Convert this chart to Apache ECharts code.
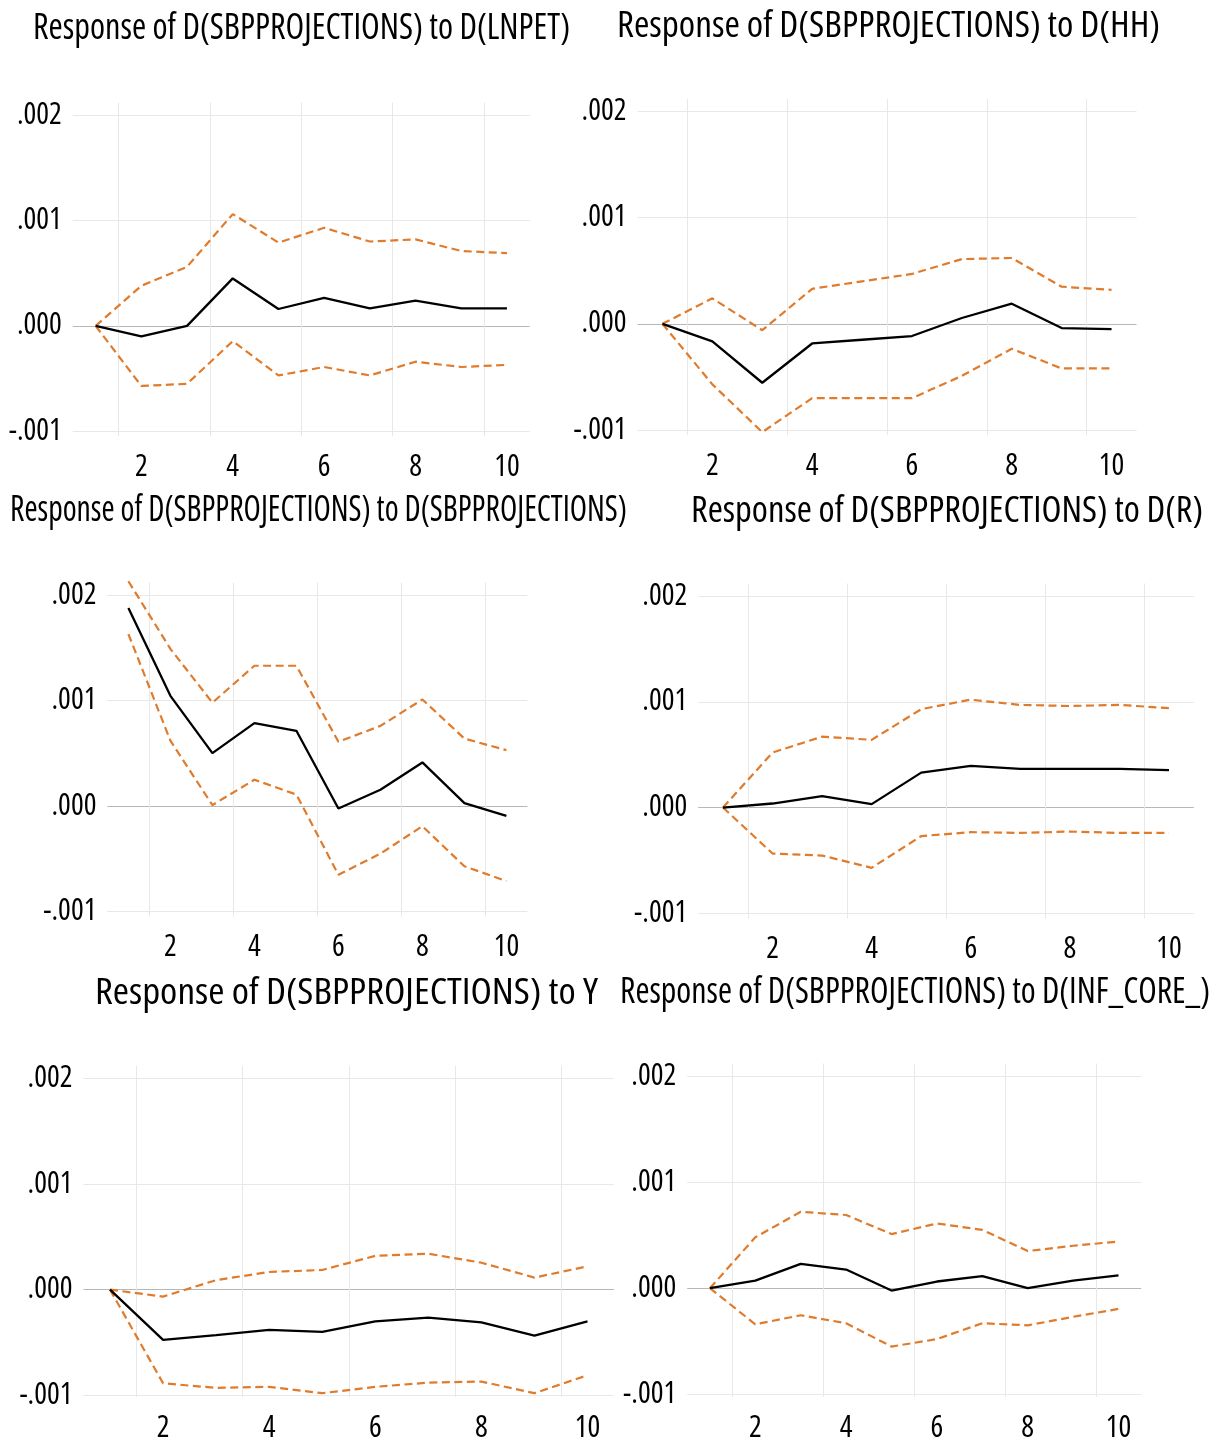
<!DOCTYPE html>
<html>
<head>
<meta charset="utf-8">
<title>Impulse responses of D(SBPPROJECTIONS)</title>
<script src="https://cdn.jsdelivr.net/npm/echarts@6/dist/echarts.min.js"></script>
<style>
  html, body { margin: 0; padding: 0; background: #ffffff; }
  #chart { width: 1220px; height: 1443px; }
</style>
</head>
<body>
<div id="chart"></div>
<script>
// Horizon (periods after the shock) and axis tick labels
const periods = ['1', '2', '3', '4', '5', '6', '7', '8', '9', '10'];
const xTickLabels = ['2', '4', '6', '8', '10'];
const yTickLabels = ['-.001', '.000', '.001', '.002'];

// Panel titles
const titleLnpet = 'Response of D(SBPPROJECTIONS) to D(LNPET)';
const titleHh = 'Response of D(SBPPROJECTIONS) to D(HH)';
const titleSbp = 'Response of D(SBPPROJECTIONS) to D(SBPPROJECTIONS)';
const titleR = 'Response of D(SBPPROJECTIONS) to D(R)';
const titleY = 'Response of D(SBPPROJECTIONS) to Y';
const titleInf = 'Response of D(SBPPROJECTIONS) to D(INF_CORE_)';

// Impulse responses with their +/- 2 S.E. bands
const lnpetResp  = [0, -0.00010, 0.00000, 0.00045, 0.00016, 0.000265, 0.000165, 0.00024, 0.000165, 0.000165];
const lnpetUpper = [0, 0.00038, 0.00056, 0.00106, 0.00079, 0.00093, 0.00080, 0.00082, 0.00071, 0.00069];
const lnpetLower = [0, -0.00057, -0.00055, -0.000145, -0.00047, -0.00039, -0.00047, -0.00034, -0.00039, -0.00037];

const hhResp  = [0, -0.000165, -0.000555, -0.000185, -0.00015, -0.000115, 0.000055, 0.00019, -0.00004, -0.00005];
const hhUpper = [0, 0.00024, -0.00006, 0.00033, 0.00040, 0.00047, 0.00061, 0.00062, 0.00035, 0.00032];
const hhLower = [0, -0.00057, -0.00102, -0.00070, -0.00070, -0.00070, -0.00049, -0.000235, -0.00042, -0.00042];

const sbpResp  = [0.001876, 0.001045, 0.000502, 0.000786, 0.000714, -0.000022, 0.000155, 0.000414, 0.000028, -0.000092];
const sbpUpper = [0.00213, 0.00149, 0.00098, 0.00133, 0.00133, 0.00061, 0.00076, 0.00101, 0.00064, 0.00053];
const sbpLower = [0.00163, 0.00062, 0.00001, 0.00025, 0.00011, -0.00065, -0.00045, -0.00019, -0.00057, -0.00071];

const rResp  = [0, 0.000038, 0.000107, 0.000032, 0.00033, 0.000394, 0.000366, 0.000366, 0.000366, 0.000353];
const rUpper = [0, 0.00052, 0.00067, 0.00064, 0.00093, 0.00102, 0.00097, 0.00096, 0.00097, 0.00094];
const rLower = [0, -0.000435, -0.000454, -0.00057, -0.00027, -0.000233, -0.00024, -0.000227, -0.00024, -0.00024];

const yResp  = [0, -0.000476, -0.00043, -0.00038, -0.00040, -0.00030, -0.000265, -0.00031, -0.000435, -0.00030];
const yUpper = [0, -0.000066, 0.00009, 0.000167, 0.000186, 0.00032, 0.00034, 0.000255, 0.000114, 0.00022];
const yLower = [0, -0.000886, -0.00093, -0.00092, -0.00098, -0.00092, -0.00088, -0.00087, -0.00098, -0.00081];

const infResp  = [0, 0.000072, 0.00023, 0.000176, -0.000022, 0.000063, 0.000113, 0.0, 0.000072, 0.00012];
const infUpper = [0, 0.00048, 0.00072, 0.00069, 0.00051, 0.00061, 0.00055, 0.00035, 0.00040, 0.00044];
const infLower = [0, -0.00034, -0.000255, -0.00033, -0.00055, -0.00048, -0.00033, -0.00035, -0.00027, -0.000195];

// ---- styling ----
// Condensed cut of Open Sans (selected through the font-stretch keyword)
const FAMILY = "'Open Sans', 'DejaVu Sans Condensed', sans-serif";
const STRETCH = 'condensed';
const BAND_COLOR = '#e07b2c';
const GRID_COLOR = '#e8e8e8';
const ZERO_COLOR = '#b7b7b7';
const TICK_FONT = { fontStyle: STRETCH, fontFamily: FAMILY, fontSize: 30, color: '#000' };

// Plot boxes (the .002 to -.001 span), title anchor and title width for the 3x2 layout
const panels = [
  { title: titleLnpet, resp: lnpetResp, upper: lnpetUpper, lower: lnpetLower,
    box: { left: 72.8, top: 115, width: 457, height: 316.3 }, titleAt: [301.5, 29], titleWidth: 537 },
  { title: titleHh, resp: hhResp, upper: hhUpper, lower: hhLower,
    box: { left: 637.5, top: 111.5, width: 499, height: 318.5 }, titleAt: [888.5, 27], titleWidth: 543 },
  { title: titleSbp, resp: sbpResp, upper: sbpUpper, lower: sbpLower,
    box: { left: 107.4, top: 595, width: 420, height: 316.7 }, titleAt: [318.5, 511], titleWidth: 617 },
  { title: titleR, resp: rResp, upper: rUpper, lower: rLower,
    box: { left: 698.2, top: 596, width: 495.6, height: 317.3 }, titleAt: [947, 512], titleWidth: 512 },
  { title: titleY, resp: yResp, upper: yUpper, lower: yLower,
    box: { left: 83.5, top: 1078.3, width: 530.5, height: 317 }, titleAt: [346.5, 994], titleWidth: 503 },
  { title: titleInf, resp: infResp, upper: infUpper, lower: infLower,
    box: { left: 687.2, top: 1076, width: 454, height: 318.3 }, titleAt: [915, 993], titleWidth: 590 }
];

// Show a label / vertical grid line only for the even periods
const showTick = (index) => xTickLabels.indexOf(periods[index]) !== -1;
const yLabel = (v) => yTickLabels[Math.round((v + 0.001) / 0.001)];

// Titles are squeezed horizontally to their set widths
const TITLE_FONT = STRETCH + ' 36px ' + FAMILY;
const measureCtx = document.createElement('canvas').getContext('2d');
measureCtx.font = TITLE_FONT;
const fitScale = (text, width) => width / measureCtx.measureText(text).width;

const grid = [], xAxis = [], yAxis = [], series = [], graphic = [];

panels.forEach((p, k) => {
  const b = p.box;
  const back = 2 * k, main = 2 * k + 1;

  // Backdrop grid: slightly taller, carries the vertical grid lines and period labels
  grid.push({ left: b.left, top: b.top - 12.5, width: b.width, height: b.height + 17.5 });
  // Main grid: the value scale from -.001 to .002
  grid.push({ left: b.left, top: b.top, width: b.width, height: b.height });

  xAxis.push({
    type: 'category', gridIndex: back, data: periods, boundaryGap: true,
    axisLine: { show: false },
    axisTick: { show: false, interval: showTick },
    axisLabel: Object.assign({ interval: showTick, margin: 16 }, TICK_FONT),
    splitLine: { show: true, interval: showTick, showMaxLine: false, lineStyle: { color: GRID_COLOR, width: 1 } }
  });
  yAxis.push({ type: 'value', gridIndex: back, min: 0, max: 1, show: false });

  xAxis.push({ type: 'category', gridIndex: main, data: periods, boundaryGap: true, show: false });
  yAxis.push({
    type: 'value', gridIndex: main, min: -0.001, max: 0.002, interval: 0.001,
    axisLine: { show: false }, axisTick: { show: false },
    axisLabel: Object.assign({ margin: 11, formatter: yLabel }, TICK_FONT),
    splitLine: { show: true, lineStyle: { color: [GRID_COLOR, ZERO_COLOR, GRID_COLOR, GRID_COLOR], width: 1.2 } }
  });

  const band = (data) => ({
    type: 'line', xAxisIndex: main, yAxisIndex: main, data: data,
    symbol: 'none', clip: false, silent: true, z: 3,
    lineStyle: { color: BAND_COLOR, width: 2.2, type: [8, 4.5] }
  });
  series.push(band(p.upper));
  series.push(band(p.lower));
  series.push({
    type: 'line', xAxisIndex: main, yAxisIndex: main, data: p.resp,
    symbol: 'none', clip: false, silent: true, z: 4,
    lineStyle: { color: '#000000', width: 2.3 }
  });

  graphic.push({
    type: 'text', x: p.titleAt[0], y: p.titleAt[1],
    scaleX: fitScale(p.title, p.titleWidth), scaleY: 1,
    style: {
      text: p.title, font: TITLE_FONT, fill: '#000',
      align: 'center', verticalAlign: 'middle',
      textAlign: 'center', textVerticalAlign: 'middle'
    }
  });
});

const chart = echarts.init(document.getElementById('chart'), null, { renderer: 'canvas' });
chart.setOption({
  backgroundColor: '#ffffff',
  animation: false,
  grid: grid,
  xAxis: xAxis,
  yAxis: yAxis,
  series: series,
  graphic: graphic
});
</script>
</body>
</html>
